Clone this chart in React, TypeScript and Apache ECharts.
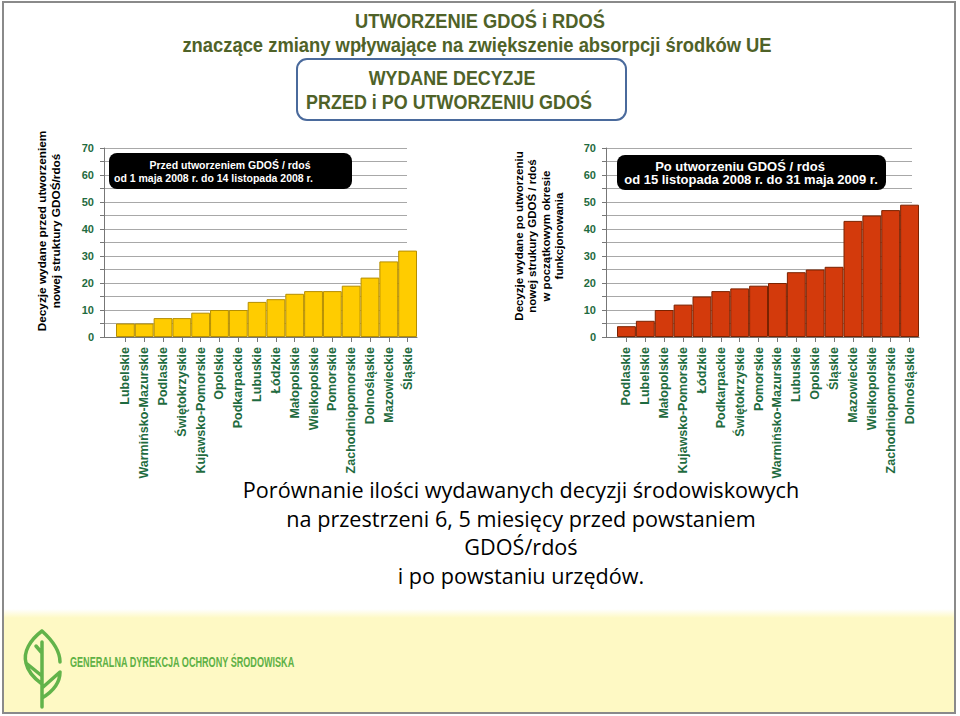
import React, { useEffect, useRef } from 'react';
import * as echarts from 'echarts';

const leftCategories = ['Lubelskie', 'Warmińsko-Mazurskie', 'Podlaskie', 'Świętokrzyskie', 'Kujawsko-Pomorskie', 'Opolskie', 'Podkarpackie', 'Lubuskie', 'Łódzkie', 'Małopolskie', 'Wielkopolskie', 'Pomorskie', 'Zachodniopomorskie', 'Dolnośląskie', 'Mazowieckie', 'Śląskie'];
const leftValues = [5, 5, 7, 7, 9, 10, 10, 13, 14, 16, 17, 17, 19, 22, 28, 32];

const rightCategories = ['Podlaskie', 'Lubelskie', 'Małopolskie', 'Kujawsko-Pomorskie', 'Łódzkie', 'Podkarpackie', 'Świętokrzyskie', 'Pomorskie', 'Warmińsko-Mazurskie', 'Lubuskie', 'Opolskie', 'Śląskie', 'Mazowieckie', 'Wielkopolskie', 'Zachodniopomorskie', 'Dolnośląskie'];
const rightValues = [4, 6, 10, 12, 15, 17, 18, 19, 20, 24, 25, 26, 43, 45, 47, 49];

const yMin = 0;
const yMax = 70;
const yStep = 10;

const titleLines = ['UTWORZENIE GDOŚ i RDOŚ', 'znaczące zmiany wpływające na zwiększenie absorpcji środków UE'];
const boxLines = ['WYDANE DECYZJE', 'PRZED i PO UTWORZENIU GDOŚ'];
const leftAxisName = ['Decyzje wydane przed utworzeniem', 'nowej struktury GDOŚ/rdoś'];
const rightAxisName = ['Decyzje wydane po utworzeniu', 'nowej strukury GDOŚ / rdoś', 'w początkowym okresie', 'funkcjonowania'];
const leftNote = ['Przed utworzeniem GDOŚ / rdoś', 'od 1 maja 2008 r. do 14 listopada 2008 r.'];
const rightNote = ['Po utworzeniu GDOŚ / rdoś', 'od 15 listopada 2008 r. do 31 maja 2009 r.'];
const bottomLines = ['Porównanie ilości wydawanych decyzji środowiskowych', 'na przestrzeni 6, 5 miesięcy przed powstaniem', 'GDOŚ/rdoś', 'i po powstaniu urzędów.'];
const logoText = 'GENERALNA DYREKCJA OCHRONY ŚRODOWISKA';

const ARIAL = "'Liberation Sans', Arial, sans-serif";
const SANS = "'Open Sans', 'Noto Sans', sans-serif";
const GREEN = '#1f6b40';
const OLIVE = '#4f6228';
const AXIS = '#777';
const GRIDLINE = '#a8a8a8';

const leafPath =
  'M42,631 C30,640 23,652 26,663 C28,672 35,679 42,684 ' +
  'M42,631 C52,640 60,651 60,662 ' +
  'M42,688 L60,672 C60,684 52,692 42,698 ' +
  'M42,642 L42,707 ' +
  'M42,653 L36,646 ' +
  'M26,663 L42,676';

let registered = false;
function ensureShape() {
  if (registered) return;
  echarts.graphic.registerShape('gdosLeaf', echarts.graphic.extendPath(leafPath, {}) as any);
  registered = true;
}

let mctx: CanvasRenderingContext2D | null = null;
function measure(text: string, font: string) {
  if (!mctx) mctx = document.createElement('canvas').getContext('2d');
  if (!mctx) return 1;
  mctx.font = font;
  return mctx.measureText(text).width || 1;
}

function makeXAxis(gridIndex: number, data: string[]) {
  return {
    type: 'category',
    gridIndex,
    data,
    boundaryGap: true,
    axisLine: { show: true, lineStyle: { color: AXIS, width: 1 } },
    axisTick: { show: true, alignWithLabel: true, length: 5, lineStyle: { color: AXIS } },
    axisLabel: {
      interval: 0,
      rotate: 90,
      margin: 10,
      color: GREEN,
      fontSize: 12.5,
      fontWeight: 'bold',
      fontFamily: ARIAL,
    },
    splitLine: { show: false },
  };
}

function makeYAxis(gridIndex: number, offset: number) {
  return {
    type: 'value',
    gridIndex,
    min: yMin,
    max: yMax,
    interval: yStep,
    offset,
    axisLine: { show: true, lineStyle: { color: AXIS, width: 1 } },
    axisTick: { show: true, length: 4, lineStyle: { color: AXIS } },
    minorTick: { show: true, splitNumber: 2, length: 4, lineStyle: { color: AXIS } },
    splitLine: { show: false },
    minorSplitLine: { show: false },
    axisLabel: {
      margin: 10,
      fontSize: 11,
      fontWeight: 'bold',
      fontFamily: ARIAL,
      color: GREEN,
    },
  };
}

// background grids that only carry the horizontal gridlines (spanning from the axis line)
function makeGridXAxis(gridIndex: number) {
  return {
    type: 'category',
    gridIndex,
    data: [''],
    axisLine: { show: true, lineStyle: { color: AXIS, width: 1 } },
    axisTick: { show: false },
    axisLabel: { show: false },
    splitLine: { show: false },
  };
}

function makeGridYAxis(gridIndex: number) {
  return {
    type: 'value',
    gridIndex,
    min: yMin,
    max: yMax,
    interval: yStep,
    axisLine: { show: false },
    axisTick: { show: false },
    axisLabel: { show: false },
    minorTick: { show: false, splitNumber: 2 },
    splitLine: { show: true, lineStyle: { color: GRIDLINE, width: 1 } },
    minorSplitLine: { show: true, lineStyle: { color: GRIDLINE, width: 1 } },
  };
}

function txt(text: string, x: number, y: number, opts: any = {}) {
  const { rotation, z, scaleX, ...style } = opts;
  return {
    type: 'text',
    x,
    y,
    rotation: rotation || 0,
    scaleX: scaleX || 1,
    z: z ?? 50,
    silent: true,
    style: {
      text,
      align: 'center',
      verticalAlign: 'middle',
      fontFamily: ARIAL,
      fontSize: 12,
      fill: '#000',
      ...style,
    },
  };
}

function fitText(text: string, x: number, y: number, target: number, family: string, size: number, weight: string, opts: any = {}) {
  const w = measure(text, `${weight} ${size}px ${family}`);
  return txt(text, x, y, { fontFamily: family, fontSize: size, fontWeight: weight, scaleX: target / w, ...opts });
}

export default function App() {
  const ref = useRef<HTMLDivElement>(null);

  useEffect(() => {
    if (!ref.current) return;
    ensureShape();
    const chart = echarts.init(ref.current, null, { renderer: 'svg' });

    const bottomFont = `normal 21px ${SANS}`;
    const bottomScale = 557 / measure(bottomLines[0], bottomFont);

    const graphics: any[] = [
      {
        type: 'rect', z: 1, silent: true,
        shape: { x: 3, y: 2, width: 952, height: 711 },
        style: { fill: 'none', stroke: '#8a8a8a', lineWidth: 2 },
      },
      {
        type: 'rect', z: 1, silent: true,
        shape: { x: 4, y: 617, width: 950, height: 95 },
        style: { fill: '#fef9c4' },
      },
      {
        type: 'rect', z: 1, silent: true,
        shape: { x: 4, y: 609, width: 950, height: 9 },
        style: {
          fill: new echarts.graphic.LinearGradient(0, 0, 0, 1, [
            { offset: 0, color: '#ffffff' },
            { offset: 1, color: '#fef9c4' },
          ]),
        },
      },
      fitText(titleLines[0], 480, 21, 250, ARIAL, 19.5, 'bold', { fill: OLIVE }),
      fitText(titleLines[1], 477, 45, 590, ARIAL, 19.5, 'bold', { fill: OLIVE }),
      {
        type: 'rect', z: 5, silent: true,
        shape: { x: 297, y: 59, width: 329, height: 61, r: 10 },
        style: { fill: 'none', stroke: '#4a6a9c', lineWidth: 2 },
      },
      fitText(boxLines[0], 452, 78, 167, ARIAL, 19.5, 'bold', { fill: OLIVE }),
      fitText(boxLines[1], 449, 102, 286, ARIAL, 19.5, 'bold', { fill: OLIVE }),
      txt(leftAxisName.join('\n'), 49, 231, { rotation: Math.PI / 2, fontWeight: 'bold', fontSize: 11.8, lineHeight: 14 }),
      txt(rightAxisName.join('\n'), 539, 236, { rotation: Math.PI / 2, fontWeight: 'bold', fontSize: 11.5, lineHeight: 13.5 }),
      {
        type: 'rect', z: 60, silent: true,
        shape: { x: 109, y: 153, width: 243, height: 36, r: 8 },
        style: { fill: '#000' },
      },
      txt(leftNote[0], 230, 165, { z: 61, fill: '#fff', fontWeight: 'bold', fontSize: 10.5 }),
      txt(leftNote[1], 114, 177.5, { z: 61, fill: '#fff', fontWeight: 'bold', fontSize: 10.5, align: 'left' }),
      {
        type: 'rect', z: 60, silent: true,
        shape: { x: 617, y: 155, width: 269, height: 35, r: 8 },
        style: { fill: '#000' },
      },
      txt(rightNote[0], 740, 166, { z: 61, fill: '#fff', fontWeight: 'bold', fontSize: 13 }),
      txt(rightNote[1], 751, 179.5, { z: 61, fill: '#fff', fontWeight: 'bold', fontSize: 13 }),
      ...bottomLines.map((l, i) =>
        txt(l, 521, 490 + i * 28.5, { fontFamily: SANS, fontSize: 21, fill: '#000', scaleX: bottomScale })
      ),
      {
        type: 'gdosLeaf', x: 0, y: 0, z: 10, silent: true,
        style: { fill: 'none', stroke: '#62b34a', lineWidth: 3.5, lineCap: 'round', lineJoin: 'round' },
      },
      fitText(logoText, 70, 662, 225, ARIAL, 14, 'bold', { z: 10, align: 'left', fill: '#5fb146' }),
    ];

    chart.setOption({
      animation: false,
      backgroundColor: '#ffffff',
      grid: [
        { left: 116, top: 148, width: 301, height: 189, containLabel: false },
        { left: 617, top: 148, width: 302, height: 189, containLabel: false },
        { left: 104, top: 148, width: 303, height: 189, containLabel: false },
        { left: 606, top: 148, width: 306, height: 189, containLabel: false },
      ],
      xAxis: [
        makeXAxis(0, leftCategories),
        makeXAxis(1, rightCategories),
        makeGridXAxis(2),
        makeGridXAxis(3),
      ],
      yAxis: [makeYAxis(0, 12), makeYAxis(1, 11), makeGridYAxis(2), makeGridYAxis(3)],
      series: [
        {
          type: 'bar',
          xAxisIndex: 0,
          yAxisIndex: 0,
          data: leftValues,
          barCategoryGap: '0%',
          itemStyle: { color: '#ffcc00', borderColor: '#b58e00', borderWidth: 1 },
          z: 3,
        },
        {
          type: 'bar',
          xAxisIndex: 1,
          yAxisIndex: 1,
          data: rightValues,
          barCategoryGap: '0%',
          itemStyle: { color: '#d33a0c', borderColor: '#7a2200', borderWidth: 1 },
          z: 3,
        },
      ],
      graphic: graphics,
    });

    return () => chart.dispose();
  }, []);

  return (
    <div
      ref={ref}
      style={{ position: 'fixed', left: 0, top: 0, width: 960, height: 716, background: '#fff' }}
    />
  );
}
